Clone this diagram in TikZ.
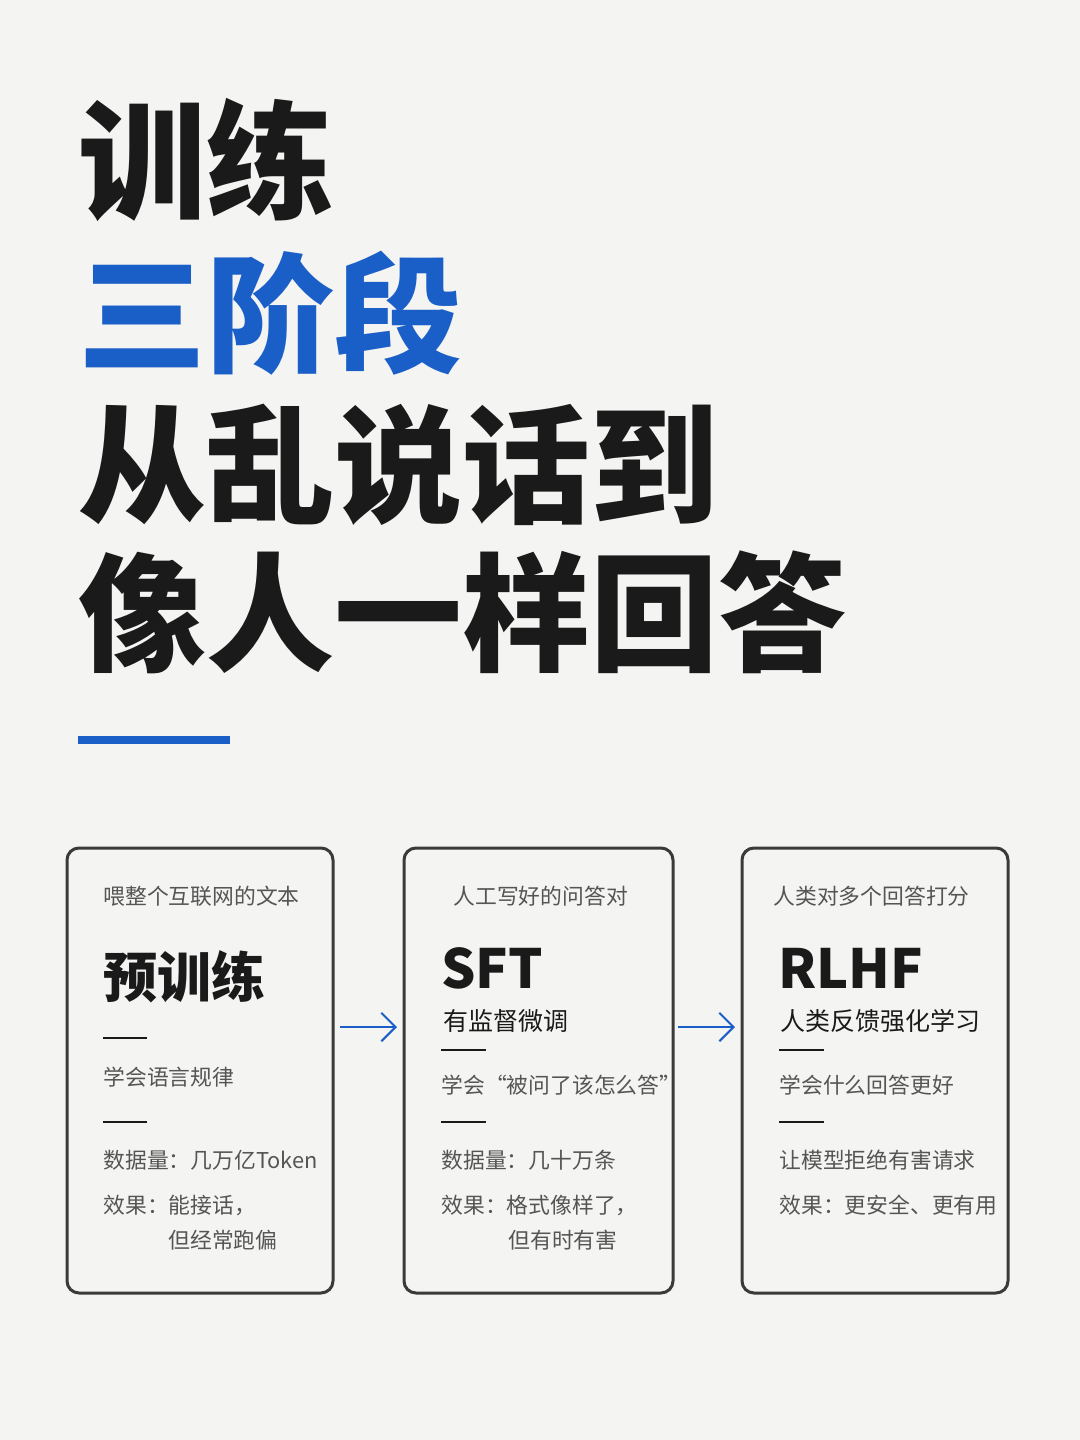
\documentclass[tikz,border=0pt]{standalone}
\usepackage{fontspec}
\setmainfont{Noto Sans CJK SC}
\newfontfamily\cjk{Noto Sans CJK SC}
\usetikzlibrary{arrows.meta, positioning}
\definecolor{pagebg}{HTML}{F4F4F2}
\definecolor{csblue}{HTML}{1A5FC8}
\definecolor{csdark}{HTML}{1A1A1A}
\definecolor{csframe}{HTML}{3A3A3A}
\definecolor{csgray}{HTML}{555555}

\begin{document}
\begin{tikzpicture}[x=0.5pt, y=-0.5pt,
    title/.style={anchor=west, inner sep=0pt, font=\cjk\bfseries\fontsize{64}{64}\selectfont, text=csdark},
    stage/.style={draw=csframe, line width=1.5pt, rounded corners=6pt},
    small/.style={anchor=west, inner sep=0pt, font=\cjk\fontsize{10.9}{12}\selectfont, text=csgray},
    head/.style={anchor=west, inner sep=0pt, font=\cjk\bfseries\fontsize{27}{30}\selectfont, text=csdark},
    sub/.style={anchor=west, inner sep=0pt, font=\cjk\fontsize{12.5}{14}\selectfont, text=csdark},
    rule/.style={draw=csdark, line width=1pt},
    arrow/.style={-{Straight Barb[length=2.5mm]}, line width=1pt, color=csblue}
]
\useasboundingbox[fill=pagebg] (0,0) rectangle (1080,1440);

% Title
\node[title] (t1) at (78,160) {训练};
\node[title, text=csblue] (t2) at (78,313) {三阶段};
\node[title] (t3) at (78,465) {从乱说话到};
\node[title] (t4) at (78,612) {像人一样回答};
\fill[csblue] (78,736) rectangle (230,744);

% Stage frames
\draw[stage] (67,848) rectangle (333,1293);
\draw[stage] (404,848) rectangle (673,1293);
\draw[stage] (742,848) rectangle (1008,1293);

% Stage 1
\node[small] (s1a) at (103,896) {喂整个互联网的文本};
\node[head] (s1b) at (103,977) {预训练};
\draw[rule] (103,1038) -- (147,1038);
\node[small] (s1c) at (103,1077) {学会语言规律};
\draw[rule] (103,1122) -- (147,1122);
\node[small] (s1d) at (103,1160) {数据量：几万亿Token};
\node[small] (s1e) at (103,1205) {效果：能接话，};
\node[small] (s1f) at (168,1240) {但经常跑偏};

% Stage 2
\node[small] (s2a) at (453,896) {人工写好的问答对};
\node[head] (s2b) at (441,968) {SFT};
\node[sub] (s2c) at (443,1021) {有监督微调};
\draw[rule] (441,1050) -- (486,1050);
\node[small] (s2d) at (441,1085) {学会“被问了该怎么答”};
\draw[rule] (441,1122) -- (486,1122);
\node[small] (s2e) at (441,1160) {数据量：几十万条};
\node[small] (s2f) at (441,1205) {效果：格式像样了，};
\node[small] (s2g) at (508,1240) {但有时有害};

% Stage 3
\node[small] (s3a) at (773,896) {人类对多个回答打分};
\node[head] (s3b) at (778,968) {RLHF};
\node[sub] (s3c) at (780,1021) {人类反馈强化学习};
\draw[rule] (779,1050) -- (824,1050);
\node[small] (s3d) at (779,1085) {学会什么回答更好};
\draw[rule] (779,1122) -- (824,1122);
\node[small] (s3e) at (779,1160) {让模型拒绝有害请求};
\node[small] (s3f) at (779,1205) {效果：更安全、更有用};

% Arrows
\coordinate (a1s) at (340,1027);
\coordinate (a1e) at (397,1027);
\coordinate (a2s) at (678,1027);
\coordinate (a2e) at (735,1027);
\draw[arrow] (a1s) -- (a1e);
\draw[arrow] (a2s) -- (a2e);
\end{tikzpicture}
\end{document}
